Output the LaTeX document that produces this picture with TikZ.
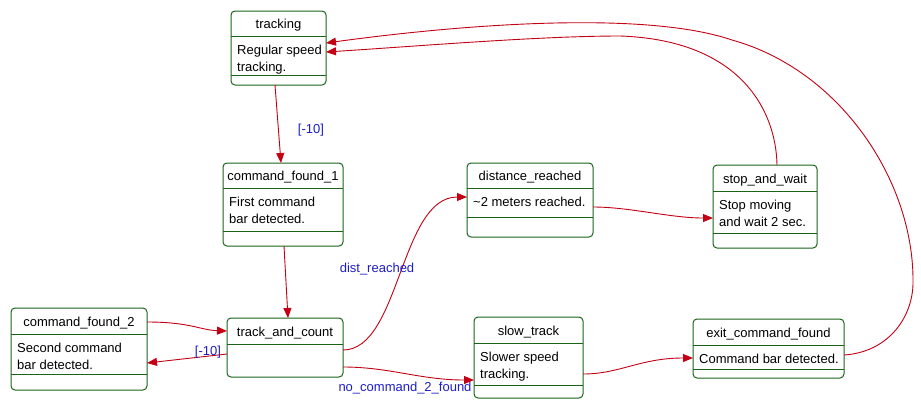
\documentclass[tikz,border=0pt]{standalone}
\usepackage{fontspec}
\setmainfont{Liberation Sans}
\usetikzlibrary{arrows.meta}
\definecolor{boxgreen}{RGB}{25,100,25}
\definecolor{arrred}{RGB}{195,0,20}
\definecolor{lblblue}{RGB}{30,30,200}
\tikzset{
  statebox/.style={draw=boxgreen, line width=1pt, rounded corners=4pt, rectangle, inner sep=0pt, outer sep=0pt},
  divider/.style={draw=boxgreen, line width=1pt},
  titletext/.style={font=\fontsize{13}{16}\selectfont, inner sep=0pt, anchor=base},
  bodytext/.style={font=\fontsize{13}{16.5}\selectfont, inner sep=0pt, align=left, anchor=north west},
  trans/.style={draw=arrred, line width=0.9pt, -{Triangle[length=10pt,width=8pt]}},
  lbl/.style={text=lblblue, font=\fontsize{13}{16}\selectfont, inner sep=0pt}
}
% name, x1, y1, x2, y2, divider1, divider2 (0 = none), title, body
\newcommand\umlstate[9]{%
  \node[statebox, minimum width={(#4-#2)*1pt}, minimum height={(#5-#3)*1pt}] (#1) at ({(#2+#4)/2},{(#3+#5)/2}) {};
  \draw[divider] (#2,#6) -- (#4,#6);
  \ifnum#7>0 \draw[divider] (#2,#7) -- (#4,#7);\fi
  \node[titletext] (#1-title) at ({(#2+#4)/2},{#6-8}) {#8};
  \node[bodytext] (#1-body) at ({#2+6},{#6+9}) {#9};
}
\begin{document}
\begin{tikzpicture}[x=1pt,y=-1pt]
\fill[white] (0,0) rectangle (921,408);
\useasboundingbox (0,0) rectangle (921,408);

\umlstate{tracking}{231}{11}{326}{85}{36}{75}{tracking}{Regular speed\\tracking.}
\umlstate{cf1}{223}{163}{343}{246}{188}{231}{command\_found\_1}{First command\\bar detected.}
\umlstate{cf2}{11}{308}{147}{390}{334}{374}{command\_found\_2}{Second command\\bar detected.}
\umlstate{tac}{227}{318}{343}{377}{344}{0}{track\_and\_count}{}
\umlstate{dr}{467}{163}{593}{237}{188}{217}{distance\_reached}{\textasciitilde2 meters reached.}
\umlstate{saw}{713}{165}{817}{248}{191}{233}{stop\_and\_wait}{Stop moving\\and wait 2 sec.}
\umlstate{st}{474}{317}{583}{398}{343}{385}{slow\_track}{Slower speed\\tracking.}
\umlstate{ecf}{693}{319}{844}{378}{345}{369}{exit\_command\_found}{Command bar detected.}

\draw[trans] ([xshift=-3.5pt]tracking.south) -- ([xshift=-2pt]cf1.north);
\draw[trans] ([xshift=1pt]cf1.south) -- ([xshift=3pt]tac.north);
\draw[trans] ([yshift=27pt]cf2.east) .. controls (190,322) and (200,330) .. ([yshift=16.5pt]tac.west);
\draw[trans] ([yshift=-6.5pt]tac.west) -- ([yshift=-14pt]cf2.east);
\draw[trans] ([yshift=-2.5pt]tac.east) .. controls (400,350) and (400,197) .. ([yshift=3pt]dr.west);
\draw[trans] ([yshift=-19.5pt]tac.east) .. controls (390,367) and (420,380) .. ([yshift=-22.5pt]st.west);
\draw[trans] ([yshift=-7pt]dr.east) .. controls (630,207) and (670,218) .. ([yshift=-11.5pt]saw.west);
\draw[trans] ([yshift=-16.5pt]st.east) .. controls (620,374) and (640,358) .. ([yshift=-9.5pt]ecf.west);
\draw[trans] ([xshift=12pt]saw.north) .. controls (776,110) and (740,40) .. (620,36)
  .. controls (540,36) and (420,46) .. ([yshift=-4pt]tracking.east);
\draw[trans] ([yshift=-6.5pt]ecf.east) .. controls (890,352) and (914,315) .. (913,280)
  .. controls (913,180) and (840,70) .. (732,40)
  .. controls (650,12) and (480,22) .. ([yshift=5pt]tracking.east);

\node[lbl] (l-t) at (311,130) {[-10]};
\node[lbl] (l-tc) at (208,352) {[-10]};
\node[lbl] (l-dr) at (377,269) {dist\_reached};
\node[lbl] (l-nc) at (405,388) {no\_command\_2\_found};
\end{tikzpicture}
\end{document}
